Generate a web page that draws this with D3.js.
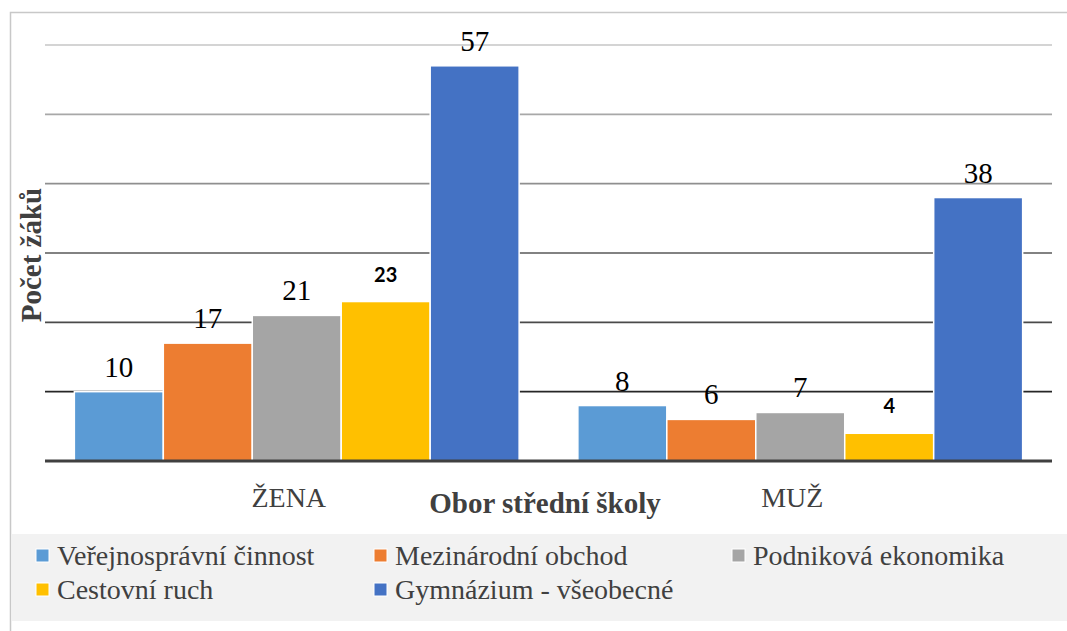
<!DOCTYPE html>
<html>
<head>
<meta charset="utf-8">
<script src="https://cdn.jsdelivr.net/npm/d3@7"></script>
<style>
  body { margin: 0; background: #fff; }
</style>
</head>
<body>
<script>
// data
var groups = ["ŽENA", "MUŽ"];
var obory = ["Veřejnosprávní činnost", "Mezinárodní obchod", "Podniková ekonomika", "Cestovní ruch", "Gymnázium - všeobecné"];
var zena = [10, 17, 21, 23, 57];
var muz = [8, 6, 7, 4, 38];
var yTicks = [10, 20, 30, 40, 50, 60];

var colors = ["#5b9bd5", "#ed7d31", "#a5a5a5", "#ffc000", "#4472c4"];
// gridlines look darker toward the bottom in the reference
var gridColors = {10: "#262626", 20: "#4a4a4a", 30: "#595959", 40: "#8f8f8f", 50: "#a8a8a8", 60: "#c6c6c6"};

var serif = "'Liberation Serif', 'Times New Roman', 'DejaVu Serif', serif";

var width = 1067, height = 631;
var plotLeft = 45, plotRight = 1052, plotTop = 45, plotBottom = 461;

var svg = d3.select("body").append("svg")
    .attr("width", width)
    .attr("height", height)
    .attr("font-family", serif);

// outer frame, runs off the picture on the right and bottom
svg.append("rect")
    .attr("x", 10.5).attr("y", 12.5)
    .attr("width", 1080).attr("height", 650)
    .attr("fill", "none")
    .attr("stroke", "#c8c8c8")
    .attr("stroke-width", 1.5);

var y = d3.scaleLinear().domain([0, 60]).range([plotBottom, plotTop]);

var x0 = d3.scaleBand().domain(groups).range([plotLeft, plotRight]);
var x1 = d3.scaleBand().domain(d3.range(obory.length))
    .range([0, x0.bandwidth()])
    .paddingOuter(0.33);

// gridlines
svg.append("g").selectAll("line")
    .data(yTicks)
    .enter().append("line")
    .attr("x1", plotLeft).attr("x2", plotRight)
    .attr("y1", function(d) { return y(d); })
    .attr("y2", function(d) { return y(d); })
    .attr("stroke", function(d) { return gridColors[d]; })
    .attr("stroke-width", 1.6);

var rows = groups.map(function(g, i) {
  return {group: g, values: i == 0 ? zena : muz};
});

var g = svg.selectAll(".grp")
    .data(rows)
    .enter().append("g")
    .attr("class", "grp")
    .attr("transform", function(d) { return "translate(" + x0(d.group) + ",0)"; });

g.selectAll("rect")
    .data(function(d) { return d.values; })
    .enter().append("rect")
    .attr("x", function(d, i) { return x1(i); })
    .attr("y", function(d) { return y(d); })
    .attr("width", x1.bandwidth())
    .attr("height", function(d) { return plotBottom - y(d); })
    .attr("fill", function(d, i) { return colors[i]; })
    .attr("stroke", "#fff")
    .attr("stroke-width", 1.5);

// value labels; the Cestovní ruch ones are bold sans in the reference
g.selectAll("text")
    .data(function(d) { return d.values; })
    .enter().append("text")
    .attr("x", function(d, i) { return x1(i) + x1.bandwidth() / 2; })
    .attr("y", function(d, i) { return y(d) - (i == 3 ? 20 : 15); })
    .attr("text-anchor", "middle")
    .attr("font-family", function(d, i) { return i == 3 ? "Lato, 'Open Sans', sans-serif" : serif; })
    .attr("font-weight", function(d, i) { return i == 3 ? "bold" : "normal"; })
    .attr("font-size", function(d, i) { return i == 3 ? 20 : 29; })
    .attr("fill", "#000")
    .text(function(d) { return d; });

// baseline
svg.append("line")
    .attr("x1", plotLeft).attr("x2", plotRight)
    .attr("y1", plotBottom).attr("y2", plotBottom)
    .attr("stroke", "#404040")
    .attr("stroke-width", 3);

// category labels
svg.selectAll(".cat")
    .data(groups)
    .enter().append("text")
    .attr("class", "cat")
    .attr("x", function(d) { return x0(d) + x0.bandwidth() / 2 - 8; })
    .attr("y", 507)
    .attr("text-anchor", "middle")
    .attr("font-size", 28)
    .attr("fill", "#404040")
    .text(function(d) { return d; });

svg.append("text")
    .attr("x", 545).attr("y", 513)
    .attr("text-anchor", "middle")
    .attr("font-size", 29)
    .attr("font-weight", "bold")
    .attr("fill", "#404040")
    .text("Obor střední školy");

svg.append("text")
    .attr("transform", "translate(41,255) rotate(-90)")
    .attr("text-anchor", "middle")
    .attr("font-size", 29)
    .attr("font-weight", "bold")
    .attr("fill", "#404040")
    .text("Počet žáků");

// legend
svg.append("rect")
    .attr("x", 11.5).attr("y", 534)
    .attr("width", width).attr("height", 87)
    .attr("fill", "#f2f2f2");

var legX = [36, 374, 732];
var leg = svg.selectAll(".leg")
    .data(obory)
    .enter().append("g")
    .attr("class", "leg")
    .attr("transform", function(d, i) {
      return "translate(" + legX[i % 3] + "," + (555 + Math.floor(i / 3) * 34) + ")";
    });

leg.append("rect")
    .attr("x", 0).attr("y", -6)
    .attr("width", 13).attr("height", 13)
    .attr("fill", function(d, i) { return colors[i]; })
    .attr("stroke", "#fff")
    .attr("stroke-width", 1);

leg.append("text")
    .attr("x", 21).attr("y", 10)
    .attr("font-size", 28)
    .attr("fill", "#404040")
    .text(function(d) { return d; });
</script>
</body>
</html>
